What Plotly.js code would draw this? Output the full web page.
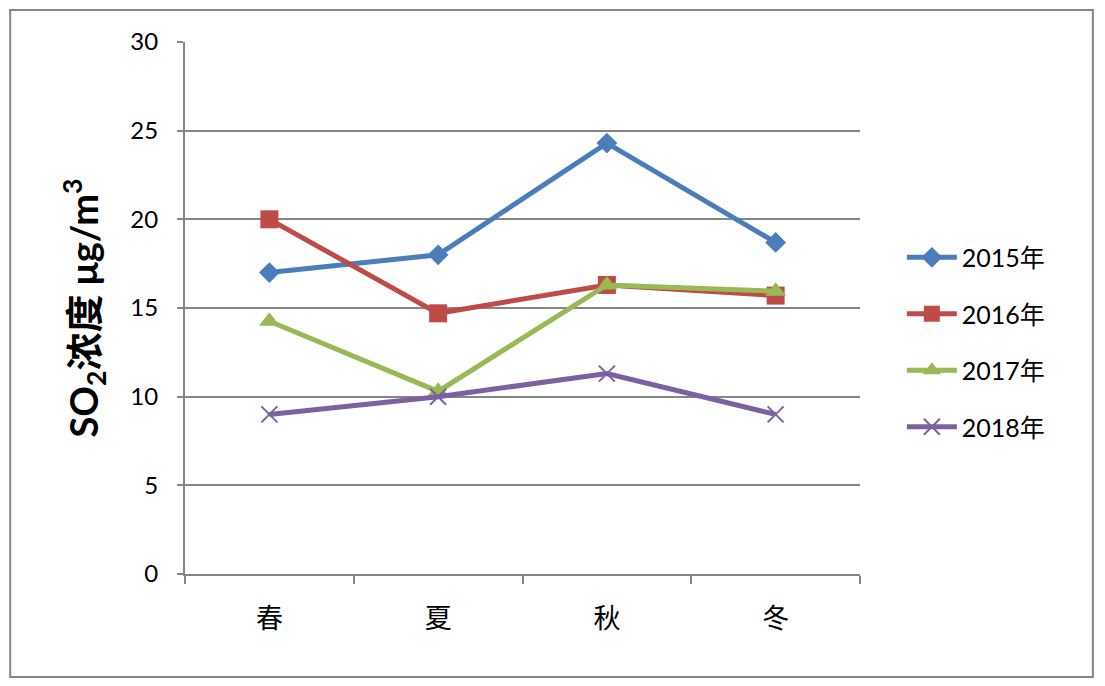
<!DOCTYPE html>
<html><head><meta charset="utf-8">
<script src="https://cdn.plot.ly/plotly-3.0.1.min.js"></script>
<style>body{margin:0;background:#fff}#c{width:1105px;height:686px}</style>
</head><body><div id="c"></div>
<script>
const categories = ["春","夏","秋","冬"];
const seriesNames = ["2015年","2016年","2017年","2018年"];
const v2015 = [17.0, 18.0, 24.3, 18.7];
const v2016 = [20.0, 14.7, 16.3, 15.7];
const v2017 = [14.25, 10.3, 16.3, 15.95];
const v2018 = [9.0, 10.0, 11.3, 9.0];
const yTicks = [0,5,10,15,20,25,30];

const colors = ["#4a7ebb","#be4b48","#98b954","#7d60a0"];
const symbols = ["diamond","square","triangle-up","x-thin-open"];
const sizes = [16,18,18,16];
const vals = [v2015,v2016,v2017,v2018];

const traces = vals.map((v,i)=>({
  x: categories, y: v, name: seriesNames[i], legendgroup:"g"+i, type:"scatter", mode:"lines+markers",
  line:{color:colors[i], width:5},
  marker:{symbol:symbols[i], size:sizes[i], color:colors[i], line:{color:colors[i], width: i===3?2:0}}
}));

const layout = {
  width:1105, height:686,
  margin:{l:185, r:245, t:42, b:112},
  paper_bgcolor:"#fff", plot_bgcolor:"#fff",
  font:{family:"Lato, 'Noto Sans CJK SC', sans-serif", color:"#000"},
  showlegend:true,
  legend:{x:1.062, y:0.436, xanchor:"left", yanchor:"middle", font:{size:25, family:"Lato, 'Noto Sans CJK SC', sans-serif"}, tracegroupgap:21, itemwidth:50, bgcolor:"rgba(0,0,0,0)"},
  xaxis:{type:"category", range:[-0.5,3.5], showline:true, linecolor:"#868686", linewidth:2, ticks:"outside", ticklen:8, tickcolor:"#868686", tickwidth:2, tickson:"boundaries", showgrid:false, tickfont:{size:27, family:"'Noto Sans CJK SC', sans-serif"}, ticklabelstandoff:20, zeroline:false, fixedrange:true},
  yaxis:{range:[0,30], tickvals:yTicks, showline:true, linecolor:"#868686", linewidth:2, ticks:"outside", ticklen:6, tickcolor:"#868686", tickwidth:2, showgrid:true, gridcolor:"#868686", gridwidth:2, zeroline:false, tickfont:{size:24}, ticklabelstandoff:14,
    title:{text:"<b>SO<sub>2</sub>浓度 μg/m<sup>3</sup></b>", font:{size:38, family:"Lato, 'Noto Sans CJK SC', sans-serif"}, standoff:20}},
  shapes:[{type:"rect", xref:"paper", yref:"paper", x0:-0.259, x1:1.345, y0:-0.1936, y1:1.06, line:{color:"#868686", width:2}, fillcolor:"rgba(0,0,0,0)"}]
};
Plotly.newPlot("c", traces, layout, {displayModeBar:false, staticPlot:true});
</script></body></html>
